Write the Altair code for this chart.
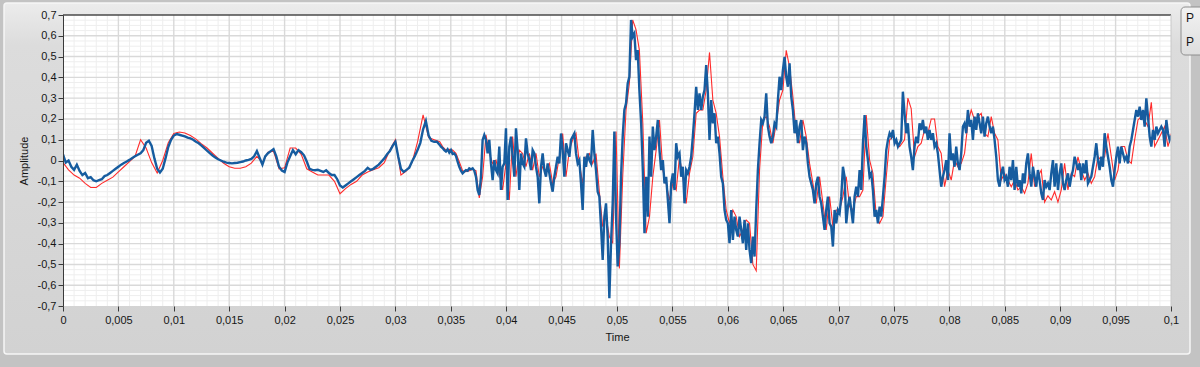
import altair as alt
import numpy as np
import pandas as pd

# ---------------- data ----------------
X_TICKS = [0, 0.005, 0.01, 0.015, 0.02, 0.025, 0.03, 0.035, 0.04, 0.045, 0.05,
           0.055, 0.06, 0.065, 0.07, 0.075, 0.08, 0.085, 0.09, 0.095, 0.1]
Y_TICKS = [-0.7, -0.6, -0.5, -0.4, -0.3, -0.2, -0.1, 0, 0.1, 0.2, 0.3, 0.4, 0.5, 0.6, 0.7]
SERIES = ["Plot 0", "Plot 1"]

# Plot 1 (blue) – smooth start, sampled every 0.25 ms from t = 0
BLUE_SMOOTH_STEP = 0.00025
BLUE_SMOOTH = [
    0.03, -0.01, 0.0, -0.03, -0.045, -0.02, -0.05, -0.07, -0.06, -0.085,
    -0.08, -0.095, -0.1, -0.095, -0.09, -0.075, -0.07, -0.06, -0.05, -0.04,
    -0.03, -0.02, -0.012, -0.005, 0.003, 0.012, 0.02, 0.028, 0.035, 0.05,
    0.085, 0.095, 0.07, 0.01, -0.04, -0.058, -0.04, 0.01, 0.065, 0.1,
    0.12, 0.127, 0.124, 0.12, 0.116, 0.11, 0.106, 0.1, 0.09, 0.083,
    0.072, 0.06, 0.048, 0.035, 0.024, 0.015, 0.006, 0.0, -0.006, -0.01,
    -0.012, -0.014, -0.012, -0.011, -0.008, -0.005, 0.0, 0.003, 0.008, 0.02,
    0.045, 0.012, -0.02, 0.02, 0.035, 0.045, 0.055, 0.02, -0.03, -0.048,
    -0.055, -0.01, 0.02, 0.05, 0.03, 0.05, 0.04, 0.025, -0.005, -0.04,
    -0.045, -0.047, -0.045, -0.05, -0.055, -0.047, -0.06, -0.07, -0.07, -0.09,
    -0.12, -0.13, -0.12, -0.11, -0.1, -0.09, -0.08, -0.07, -0.06, -0.05,
    -0.035, -0.045, -0.04, -0.03, -0.02, -0.005, 0.01, 0.03, 0.045, 0.07,
    0.09, 0.02, -0.04, -0.055, -0.045, -0.035, -0.005, 0.02, 0.05, 0.085,
    0.15, 0.19, 0.12, 0.095, 0.09, 0.09, 0.075,
]

# Plot 1 (blue) – noisy part, sampled every ~0.15 ms
NOISY_STEP = 0.0001505
BLUE_A_START = 0.03411
BLUE_A = [
    0.067, 0.06, 0.05, 0.043, 0.054, 0.038, 0.05, 0.031, 0.034, 0.022,
    -0.006, -0.03, -0.049, -0.062, -0.054, -0.046, -0.049, -0.038, -0.042, -0.038,
    -0.049, -0.078, -0.142, -0.166, -0.078, 0.099, 0.123, 0.099, 0.034, 0.099,
    -0.014, -0.094, 0.002, -0.046, -0.062, 0.067, -0.142, -0.03, -0.014, 0.155,
    -0.19, 0.067, 0.115, 0.018, -0.078, 0.155, 0.05, -0.142, 0.034, -0.014,
    -0.03, 0.107, 0.034, 0.002, -0.046, 0.05, 0.034, -0.03, -0.078, -0.206,
    -0.03, 0.034, -0.046, -0.078, -0.014, -0.062, -0.11, -0.15, -0.078, -0.03,
    0.018, -0.014, 0.13, 0.05, -0.078, 0.083, 0.05, 0.018, 0.099, 0.115,
    0.13, 0.034, -0.014, 0.002, -0.11, -0.238, 0.018, -0.03, 0.034, 0.002,
    -0.014, 0.147, 0.034, -0.046, -0.15, -0.174, -0.318, -0.478, -0.27, -0.206,
    -0.366, -0.663, -0.398, -0.206, 0.139, -0.27, -0.51, -0.398, -0.078, 0.115,
    0.243, 0.275, 0.371, 0.403, 0.676, 0.595, 0.611, 0.483, 0.531, 0.339,
]
BLUE_B_START = 0.05218
BLUE_B = [
    0.179, -0.046, -0.35, -0.078, -0.27, 0.115, -0.078, 0.163, 0.05, 0.115,
    0.195, 0.05, -0.046, 0.002, -0.11, -0.078, -0.19, -0.302, -0.11, -0.062,
    -0.142, 0.083, 0.018, 0.034, -0.078, -0.03, -0.206, -0.046, -0.062, -0.03,
    0.018, 0.115, 0.227, 0.355, 0.243, 0.323, 0.243, 0.307, 0.339, 0.459,
    0.323, 0.099, 0.291, 0.179, 0.227, 0.083, 0.115, 0.034, -0.078, -0.11,
    -0.238, -0.286, -0.302, -0.398, -0.238, -0.382, -0.27, -0.334, -0.366, -0.27,
    -0.334, -0.398, -0.286, -0.43, -0.302, -0.43, -0.494, -0.366, -0.462, -0.238,
    -0.046, 0.083, 0.195, 0.179, 0.211, 0.323, 0.163, 0.115, 0.083, 0.115,
    0.179, 0.163, 0.291, 0.403, 0.339, 0.435, 0.499, 0.403, 0.355, 0.467,
    0.307, 0.243, 0.131, 0.195, 0.083, 0.163, 0.195, 0.05, 0.115, 0.083,
    -0.014, -0.078, -0.11, -0.142, -0.206, -0.11, -0.078, -0.174, -0.206, -0.27,
    -0.334, -0.238, -0.174, -0.302, -0.318, -0.414, -0.238, -0.302, -0.238, -0.254,
    -0.174, -0.03, -0.078, -0.302, -0.222, -0.174, -0.238, -0.302, -0.174, -0.126,
    -0.174, -0.046, -0.142, 0.083, 0.219, 0.067, 0.002, -0.078, -0.062, -0.142,
    -0.27, -0.238, -0.302, -0.222, -0.27, -0.174, -0.078, 0.05, 0.099, 0.131,
    0.115, 0.147, 0.083, 0.099, 0.067, 0.083,
]
BLUE_C_START = 0.07565
BLUE_C = [
    0.099, 0.331, 0.227, 0.131, 0.179, 0.067, 0.018, -0.046, 0.067, 0.115,
    0.083, 0.179, 0.147, 0.195, 0.131, 0.163, 0.099, 0.147, 0.099, 0.131,
    0.067, 0.083, 0.034, -0.046, -0.126, -0.078, -0.046, 0.002, -0.094, 0.131,
    0.002, 0.034, -0.03, 0.067, -0.014, -0.046, 0.034, 0.163, 0.179, 0.131,
    0.243, 0.163, 0.195, 0.099, 0.211, 0.147, 0.227, 0.179, 0.131, 0.211,
    0.115, 0.179, 0.211, 0.163, 0.131, 0.163, 0.099, 0.018, -0.094, -0.126,
    -0.062, -0.03, -0.094, -0.078, -0.126, -0.03, -0.094, 0.002, -0.142, -0.03,
    -0.126, -0.094, -0.158, -0.062, -0.11, -0.014, 0.034, -0.062, -0.126, -0.03,
    -0.078, -0.126, -0.046, -0.094, -0.158, -0.19, -0.094, -0.126, -0.11, -0.142,
    -0.062, 0.002, -0.126, -0.014, -0.142, -0.062, -0.014, -0.11, -0.142, -0.094,
    -0.062, -0.126, -0.078, -0.046, 0.018, -0.014, -0.046, -0.014, -0.094, -0.014,
    -0.062, 0.002, -0.11, -0.094, -0.078, -0.03, 0.018, 0.083, 0.002, -0.046,
    0.018, -0.03, 0.131, 0.067, 0.018, -0.03, -0.094, -0.126, -0.046, 0.018,
    0.067, -0.014, 0.067, 0.034, 0.002, 0.018, -0.014, 0.067, 0.099, 0.147,
    0.195, 0.243, 0.211, 0.259, 0.195, 0.243, 0.163, 0.299, 0.211, 0.115,
    0.067, 0.147, 0.099, 0.163, 0.131, 0.147, 0.163, 0.147, 0.067, 0.195,
    0.131, 0.099, 0.12,
]

# Plot 0 (red) – smooth start, every 0.5 ms
RED_SMOOTH_STEP = 0.0005
RED_SMOOTH = [
    -0.01, -0.045, -0.07, -0.085, -0.11, -0.13, -0.13, -0.11, -0.095, -0.08,
    -0.055, -0.03, -0.005, 0.02, 0.1, 0.06, -0.01, -0.06, 0.0, 0.085,
    0.13, 0.137, 0.132, 0.12, 0.103, 0.08, 0.06, 0.035, 0.01, -0.013,
    -0.03, -0.037, -0.037, -0.03, -0.013, 0.02, -0.01, 0.04, 0.045, -0.04,
    -0.035, 0.06, 0.06, 0.03, -0.04, -0.055, -0.07, -0.07, -0.07, -0.1,
    -0.16, -0.135, -0.115, -0.1, -0.07, -0.055, -0.045, -0.035, -0.01, 0.05,
    0.1, -0.07, -0.05, -0.01, 0.09, 0.22, 0.11, 0.1, 0.09,
]
# Plot 0 (red) – noisy part, every ~0.3 ms
RED_STEP = 0.000301
RED_A_START = 0.03426
RED_A = [
    0.067, 0.05, 0.054, 0.05, 0.034, -0.006, -0.049, -0.054, -0.049, -0.042,
    -0.049, -0.18, -0.078, 0.123, 0.034, -0.014, 0.002, -0.062, -0.142, -0.014,
    -0.19, 0.115, -0.078, 0.05, 0.034, -0.03, 0.034, -0.046, 0.034, -0.078,
    -0.03, -0.046, -0.014, -0.11, -0.078, 0.018, 0.13, -0.078, 0.05, 0.099,
    0.13, -0.014, -0.11, 0.018, 0.034, -0.014, 0.034, -0.15, -0.318, -0.27,
    -0.366, -0.398, 0.139, -0.52, -0.078, 0.243, 0.371, 0.676, 0.63, 0.531,
]
RED_B_START = 0.05233
RED_B = [
    0.179, -0.35, -0.27, -0.078, 0.05, 0.195, -0.046, -0.11, -0.19, -0.11,
    -0.142, 0.018, -0.078, -0.206, -0.062, 0.018, 0.227, 0.243, 0.243, 0.339,
    0.52, 0.291, 0.227, 0.115, -0.078, -0.238, -0.302, -0.238, -0.27, -0.366,
    -0.334, -0.286, -0.302, -0.5, -0.53, -0.046, 0.195, 0.211, 0.163, 0.083,
    0.179, 0.291, 0.339, 0.53, 0.45, 0.307, 0.131, 0.083, 0.195, 0.115,
    -0.014, -0.11, -0.206, -0.078, -0.206, -0.334, -0.174, -0.318, -0.238, -0.238,
    -0.174, -0.078, -0.222, -0.238, -0.174, -0.174, -0.142, 0.219, 0.002, -0.062,
    -0.27, -0.302, -0.27, -0.078, 0.099, 0.115, 0.083, 0.067,
]
RED_C_START = 0.07595
RED_C = [
    0.099, 0.3, 0.25, 0.018, 0.067, 0.083, 0.147, 0.131, 0.2, 0.2,
    0.067, 0.034, -0.126, -0.046, -0.094, 0.002, -0.03, -0.014, 0.034, 0.179,
    0.243, 0.195, 0.211, 0.227, 0.131, 0.115, 0.211, 0.131, 0.099, -0.094,
    -0.062, -0.094, -0.126, -0.094, -0.142, -0.126, -0.158, -0.11, 0.034, -0.126,
    -0.078, -0.046, -0.2, -0.17, -0.19, -0.15, -0.2, -0.142, -0.014, -0.142,
    -0.062, -0.078, 0.018, -0.046, -0.094, -0.062, -0.11, -0.078, 0.018, 0.002,
    0.018, 0.131, 0.018, -0.094, -0.046, 0.067, 0.067, 0.002, -0.014, 0.099,
    0.195, 0.211, 0.195, 0.163, 0.28, 0.067, 0.099, 0.131, 0.163, 0.067,
    0.131,
]


def segment(start, step, values, name):
    return pd.DataFrame({"t": start + step * np.arange(len(values)),
                         "v": values, "series": name})


blue = pd.concat([
    segment(0.0, BLUE_SMOOTH_STEP, BLUE_SMOOTH, SERIES[1]),
    segment(BLUE_A_START, NOISY_STEP, BLUE_A, SERIES[1]),
    segment(BLUE_B_START, NOISY_STEP, BLUE_B, SERIES[1]),
    segment(BLUE_C_START, NOISY_STEP, BLUE_C, SERIES[1]),
], ignore_index=True)
red = pd.concat([
    segment(0.0, RED_SMOOTH_STEP, RED_SMOOTH, SERIES[0]),
    segment(RED_A_START, RED_STEP, RED_A, SERIES[0]),
    segment(RED_B_START, RED_STEP, RED_B, SERIES[0]),
    segment(RED_C_START, RED_STEP, RED_C, SERIES[0]),
], ignore_index=True)

# grid positions
major_x = pd.DataFrame({"t": X_TICKS[1:-1]})
major_y = pd.DataFrame({"v": Y_TICKS[1:-1]})
minor_x = pd.DataFrame({"t": [k / 1000 for k in range(1, 100) if k % 5]})
minor_y = pd.DataFrame({"v": [k * 0.025 for k in range(-27, 28) if k % 4]})
one = pd.DataFrame({"a": [0]})

W, H = 1108, 291
FONT = "Liberation Sans"
RED, BLUE = "#ff2b2b", "#165c9f"
INK = "#161616"

xs = alt.Scale(domain=[0, 0.1], nice=False, zero=False)
ys = alt.Scale(domain=[-0.7, 0.7], nice=False, zero=False)

x_axis = alt.Axis(values=X_TICKS, format="~g", labelExpr="replace(datum.label, '.', ',')",
                  title="Time", grid=False, domain=False, ticks=True, tickSize=5,
                  tickColor="#3a3a3a", labelPadding=3, labelFont=FONT, labelFontSize=11,
                  labelColor=INK, titleFont=FONT, titleFontSize=11,
                  titleFontWeight="normal", titleColor=INK, titlePadding=6,
                  labelFlush=False, labelOverlap=False, zindex=2)
y_axis = alt.Axis(values=Y_TICKS,
                  labelExpr="abs(datum.value) < 1e-9 ? '0' : (datum.value < 0 ? '-' : '') + replace(format(abs(datum.value), '.1f'), '.', ',')",
                  title="Amplitude", grid=False, domain=True, domainColor="#3a3a3a",
                  ticks=True, tickSize=5, tickColor="#3a3a3a", labelPadding=2,
                  labelFont=FONT, labelFontSize=11, labelColor=INK,
                  titleFont=FONT, titleFontSize=11, titleFontWeight="normal",
                  titleColor=INK, titlePadding=8, labelFlush=False,
                  labelOverlap=False, zindex=2)

color = alt.Color("series:N", scale=alt.Scale(domain=SERIES, range=[RED, BLUE]),
                  legend=None)

panel = alt.Chart(one).mark_rect(
    fill=alt.LinearGradient(gradient="linear", x1=0, x2=0, y1=0, y2=1,
                            stops=[alt.GradientStop(color="#ececec", offset=0),
                                   alt.GradientStop(color="#dcdcdc", offset=0.12),
                                   alt.GradientStop(color="#d2d2d2", offset=1)]),
    stroke="#f6f6f6", strokeWidth=1.5, cornerRadius=3,
).encode(x=alt.value(-59), x2=alt.value(1127), y=alt.value(-12), y2=alt.value(339))

plot_bg = alt.Chart(one).mark_rect(fill="white").encode(
    x=alt.value(0), x2=alt.value(W), y=alt.value(0), y2=alt.value(H))

minor_xr = alt.Chart(minor_x).mark_rule(color="#eeeeee", strokeWidth=1).encode(
    x=alt.X("t:Q", scale=xs, axis=x_axis))
minor_yr = alt.Chart(minor_y).mark_rule(color="#eeeeee", strokeWidth=1).encode(
    y=alt.Y("v:Q", scale=ys, axis=y_axis))
major_xr = alt.Chart(major_x).mark_rule(color="#d9d9d9", strokeWidth=1.4).encode(
    x=alt.X("t:Q", scale=xs, axis=x_axis))
major_yr = alt.Chart(major_y).mark_rule(color="#d9d9d9", strokeWidth=1.4).encode(
    y=alt.Y("v:Q", scale=ys, axis=y_axis))

red_line = alt.Chart(red).mark_line(strokeWidth=1.1, clip=True).encode(
    x=alt.X("t:Q", scale=xs, axis=x_axis),
    y=alt.Y("v:Q", scale=ys, axis=y_axis),
    color=color, order="t:Q")
blue_line = alt.Chart(blue).mark_line(strokeWidth=2.4, clip=True).encode(
    x=alt.X("t:Q", scale=xs, axis=x_axis),
    y=alt.Y("v:Q", scale=ys, axis=y_axis),
    color=color, order="t:Q")

top_border = alt.Chart(one).mark_rule(color="#4a4a4a", strokeWidth=1.5).encode(
    x=alt.value(0), x2=alt.value(W), y=alt.value(0))
right_border = alt.Chart(one).mark_rule(color="#c8c8c8", strokeWidth=1).encode(
    x=alt.value(W), y=alt.value(0), y2=alt.value(H))

# plot legend box in the top-right corner (cut off by the window, as in the reference)
legend_box = alt.Chart(one).mark_rect(
    fill=alt.LinearGradient(gradient="linear", x1=0, x2=0, y1=0, y2=1,
                            stops=[alt.GradientStop(color="#f2f2f2", offset=0),
                                   alt.GradientStop(color="#dedede", offset=1)]),
    stroke="#8e8e8e", strokeWidth=1, cornerRadius=4,
).encode(x=alt.value(1118), x2=alt.value(1160), y=alt.value(-8), y2=alt.value(40))
legend_0 = alt.Chart(pd.DataFrame({"label": [SERIES[0]]})).mark_text(
    align="left", baseline="middle", font=FONT, fontSize=12, color=INK,
    limit=12, ellipsis=" ",
).encode(x=alt.value(1123), y=alt.value(3), text="label:N")
legend_1 = alt.Chart(pd.DataFrame({"label": [SERIES[1]]})).mark_text(
    align="left", baseline="middle", font=FONT, fontSize=12, color=INK,
    limit=12, ellipsis=" ",
).encode(x=alt.value(1123), y=alt.value(27), text="label:N")

chart = alt.layer(
    panel, plot_bg, minor_xr, minor_yr, major_xr, major_yr,
    red_line, blue_line, top_border, right_border, legend_box, legend_0, legend_1,
).properties(
    width=W, height=H,
    autosize=alt.AutoSizeParams(type="none"),
    padding={"left": 63, "top": 15, "right": 29, "bottom": 61},
    background="#c3c3c3",
).configure_view(stroke=None)

chart.save("out.html", embed_options={"renderer": "svg", "actions": False})
